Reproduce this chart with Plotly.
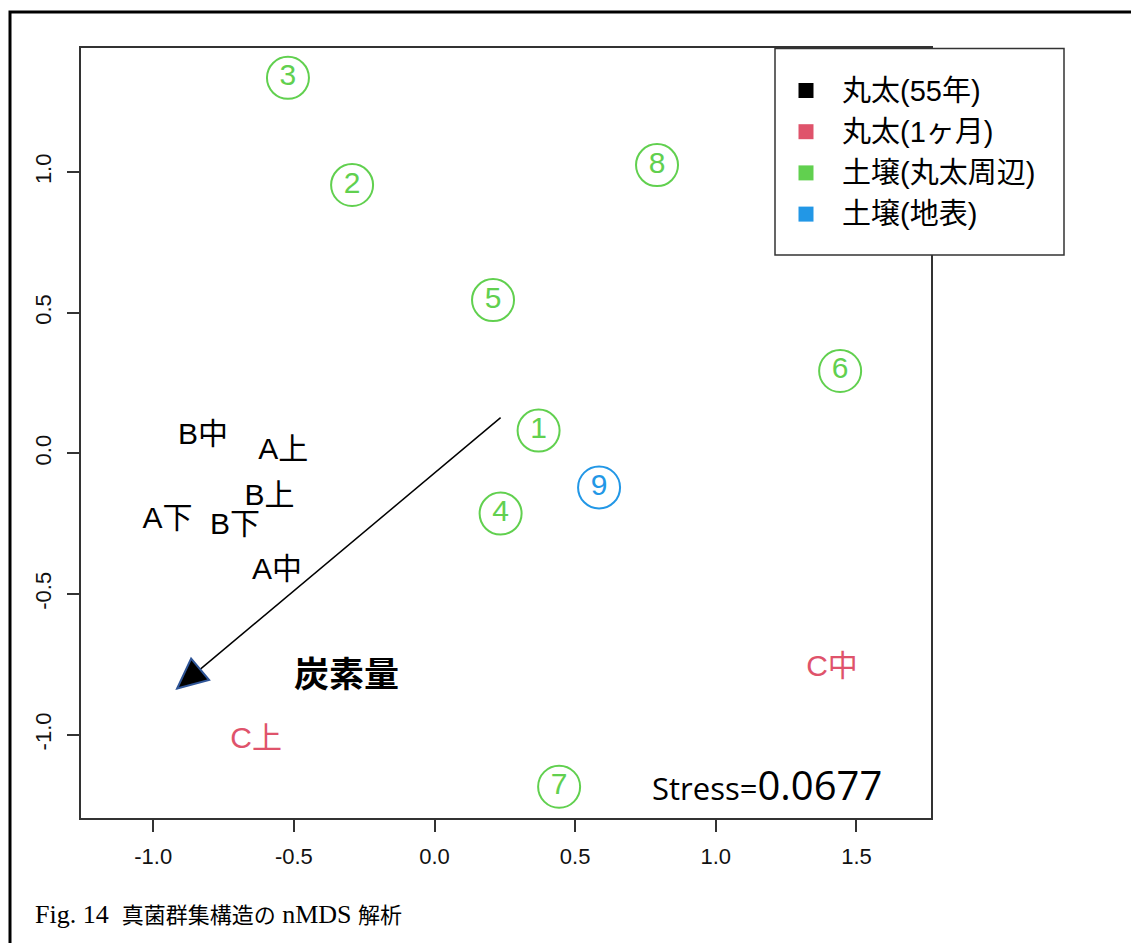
import plotly.graph_objects as go

# ---------------- data ----------------
groups = ["丸太(55年)", "丸太(1ヶ月)", "土壌(丸太周辺)", "土壌(地表)"]
group_colors = ["#000000", "#DF536B", "#61D04F", "#2297E6"]

# soil samples (circled numbers)
soil_ids = ["1", "2", "3", "4", "5", "6", "7", "8", "9"]
soil_x = [0.370, -0.293, -0.521, 0.235, 0.208, 1.442, 0.443, 0.791, 0.585]
soil_y = [0.081, 0.954, 1.335, -0.214, 0.545, 0.293, -1.185, 1.025, -0.121]
soil_group = [2, 2, 2, 2, 2, 2, 2, 2, 3]

# log samples (text labels)
log_labels = ["B中", "A上", "B上", "A下", "B下", "A中", "C上", "C中"]
log_x = [-0.823, -0.538, -0.587, -0.949, -0.709, -0.560, -0.634, 1.413]
log_y = [0.059, 0.0085, -0.157, -0.239, -0.260, -0.420, -1.022, -0.763]
log_group = [0, 0, 0, 0, 0, 0, 1, 1]

# fitted environmental vector
vector_name = "炭素量"
vector_x = [0.235, -0.915]
vector_y = [0.127, -0.836]
vector_label_x = -0.312
vector_label_y = -0.774

stress = 0.0677
stress_x, stress_y = 1.182, -1.176
x_ticks = [-1.0, -0.5, 0.0, 0.5, 1.0, 1.5]
y_ticks = [-1.0, -0.5, 0.0, 0.5, 1.0]
caption_head = "Fig. 14"
caption_jp1 = "真菌群集構造の"
caption_mid = "nMDS"
caption_jp2 = "解析"

# ---------------- layout geometry ----------------
W, H = 1131, 943
ML, MR, MT, MB = 81, 200, 48, 125
PW, PH = W - ML - MR, H - MT - MB
x_range = [-1.2567, 1.7650]
y_range = [-1.2961, 1.4412]
px_per_x = PW / (x_range[1] - x_range[0])
px_per_y = PH / (y_range[1] - y_range[0])


def paper_x(px):
    return (px - ML) / PW


def paper_y(py):
    return (H - MB - py) / PH


def tick_text(vals):
    # plain hyphen for negatives
    return [f"{v:.1f}" for v in vals]


LATIN_CJK = "Liberation Sans, Arial, Noto Sans CJK JP, sans-serif"

fig = go.Figure()

# vector shaft
fig.add_trace(go.Scatter(
    x=vector_x, y=vector_y, mode="lines",
    line=dict(color="black", width=1.5),
    hoverinfo="skip", showlegend=False,
))

# soil samples: open circles with the sample number inside
soil_colors = [group_colors[g] for g in soil_group]
fig.add_trace(go.Scatter(
    x=soil_x, y=soil_y, mode="markers+text",
    text=soil_ids, textposition="middle center",
    textfont=dict(family=LATIN_CJK, size=30, color=soil_colors),
    marker=dict(symbol="circle-open", size=42,
                line=dict(width=2, color=soil_colors), color=soil_colors),
    cliponaxis=False, showlegend=False,
))

# log samples: text labels
fig.add_trace(go.Scatter(
    x=log_x, y=log_y, mode="text",
    text=log_labels, textposition="middle center",
    textfont=dict(family=LATIN_CJK, size=30,
                  color=[group_colors[g] for g in log_group]),
    cliponaxis=False, showlegend=False,
))

shapes = []

# arrowhead at the tip of the vector (sized in pixels)
ddx = (vector_x[1] - vector_x[0]) * px_per_x
ddy = (vector_y[1] - vector_y[0]) * px_per_y
norm = (ddx ** 2 + ddy ** 2) ** 0.5
ux, uy = ddx / norm, ddy / norm
head_len, head_w = 30, 28
bx, by = -ux * head_len, -uy * head_len
px_, py_ = -uy * head_w / 2, ux * head_w / 2
tri = (f"M 0,0 L {bx + px_:.2f},{by + py_:.2f} "
       f"L {bx - px_:.2f},{by - py_:.2f} Z")
shapes.append(dict(
    type="path", path=tri, xref="x", yref="y",
    xsizemode="pixel", ysizemode="pixel",
    xanchor=vector_x[1], yanchor=vector_y[1],
    fillcolor="black", line=dict(color="#2F5597", width=2),
    layer="above",
))

# legend box
leg_left, leg_right, leg_top, leg_bottom = 775, 1064, 48.5, 255
shapes.append(dict(
    type="rect", xref="paper", yref="paper",
    x0=paper_x(leg_left), x1=paper_x(leg_right),
    y0=paper_y(leg_bottom), y1=paper_y(leg_top),
    fillcolor="white", line=dict(color="#333333", width=1.5), layer="above",
))

annotations = []
row0, row_step = 90.5, 41.2
for i, (name, col) in enumerate(zip(groups, group_colors)):
    ry = row0 + i * row_step
    shapes.append(dict(
        type="rect", xref="paper", yref="paper",
        xsizemode="pixel", ysizemode="pixel",
        xanchor=paper_x(806), yanchor=paper_y(ry),
        x0=-7.5, x1=7.5, y0=-7.5, y1=7.5,
        fillcolor=col, line=dict(width=0), layer="above",
    ))
    annotations.append(dict(
        text=name, xref="paper", yref="paper",
        x=paper_x(840), y=paper_y(ry), xanchor="left", yanchor="middle",
        showarrow=False,
        font=dict(family=LATIN_CJK, size=29, color="black"),
    ))

# outer figure frame
shapes.append(dict(
    type="rect", xref="paper", yref="paper",
    x0=paper_x(10), x1=paper_x(W + 20),
    y0=paper_y(H + 20), y1=paper_y(12),
    line=dict(color="black", width=3), fillcolor="rgba(0,0,0,0)",
    layer="above",
))

# vector label
annotations.append(dict(
    text=f"<b>{vector_name}</b>", x=vector_label_x, y=vector_label_y,
    xref="x", yref="y", showarrow=False, xanchor="center", yanchor="middle",
    font=dict(family="Noto Sans CJK JP, sans-serif", size=35, color="black"),
))

# stress value
annotations.append(dict(
    text=f"Stress=<span style='font-size:40px'>{stress:.4f}</span>",
    x=stress_x, y=stress_y, xref="x", yref="y", showarrow=False,
    xanchor="center", yanchor="middle",
    font=dict(family="Open Sans, sans-serif", size=31, color="black"),
))

# caption
sp = "\u00a0"
annotations.append(dict(
    text=(f"{caption_head}{sp}{sp}<span style='font-size:22px'>{caption_jp1}</span>"
          f"{sp}{caption_mid}{sp}<span style='font-size:22px'>{caption_jp2}</span>"),
    xref="paper", yref="paper", x=paper_x(33), y=paper_y(914),
    xanchor="left", yanchor="middle", showarrow=False,
    font=dict(family="Liberation Serif, Noto Sans CJK JP, serif", size=26,
              color="black"),
))

axis_common = dict(
    showgrid=False, zeroline=False, showline=True, mirror=True,
    linecolor="#333333", linewidth=1.5,
    ticks="outside", ticklen=12, tickwidth=1.5, tickcolor="#333333",
    tickfont=dict(family="Liberation Sans, Arial, sans-serif", size=22,
                  color="#111111"),
)

fig.update_layout(
    width=W, height=H,
    margin=dict(l=ML, r=MR, t=MT, b=MB),
    paper_bgcolor="white", plot_bgcolor="white",
    xaxis=dict(range=x_range, tickvals=x_ticks, ticktext=tick_text(x_ticks),
               ticklabelstandoff=6, **axis_common),
    yaxis=dict(range=y_range, tickvals=y_ticks, ticktext=tick_text(y_ticks),
               tickangle=-90, ticklabelstandoff=7, **axis_common),
    shapes=shapes, annotations=annotations,
    showlegend=False,
)

fig.write_html("out.html")
